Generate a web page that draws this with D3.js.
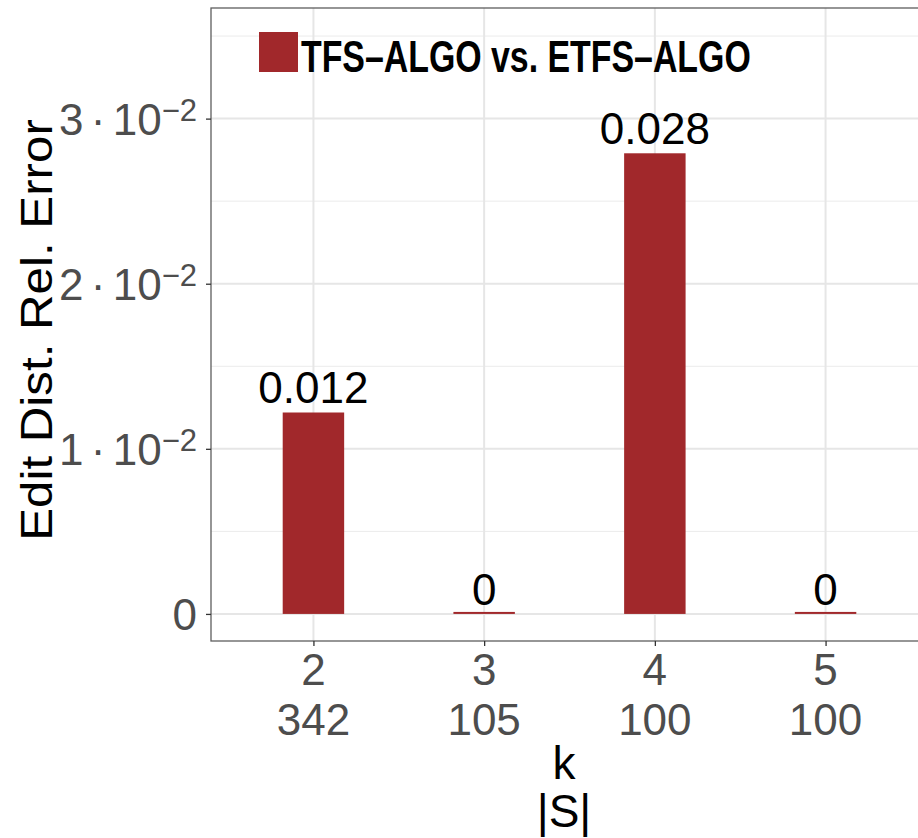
<!DOCTYPE html>
<html>
<head>
<meta charset="utf-8">
<script src="https://cdn.jsdelivr.net/npm/d3@7"></script>
<style>
  body { margin: 0; background: #fff; }
  text { font-family: "Liberation Sans", Arial, Helvetica, sans-serif; }
</style>
</head>
<body>
<div id="chart"></div>
<script>
// data
var kValues   = ["2", "3", "4", "5"];
var setSizes  = ["342", "105", "100", "100"];
var errors    = [0.0122, 0, 0.0279, 0];
var barLabels = ["0.012", "0", "0.028", "0"];
var yTicks    = [0, 0.01, 0.02, 0.03];
var yMinor    = [0.005, 0.015, 0.025, 0.035];
var seriesName = "TFS\u2013ALGO vs. ETFS\u2013ALGO";

var barColor = "#a1282b";

// svg drawing area
var margin = {top: 8, right: -10, bottom: 197, left: 211};
var width  = 918 - margin.left - margin.right;
var height = 838 - margin.top - margin.bottom;

var svg = d3.select("#chart").append("svg")
    .attr("width", 918)
    .attr("height", 838);

var g = svg.append("g")
    .attr("transform", "translate(" + margin.left + "," + margin.top + ")");

// scales
var x = d3.scalePoint()
    .domain(kValues)
    .range([0, width])
    .padding(0.6);

var y = d3.scaleLinear()
    .domain([-0.00164, 0.0367])
    .range([height, 0]);

var barWidth = x.step() * 0.36;

// grid
g.selectAll(".minor").data(yMinor).enter().append("line")
    .attr("x1", 0).attr("x2", width)
    .attr("y1", d => y(d)).attr("y2", d => y(d))
    .attr("stroke", "#ebebeb").attr("stroke-width", 1);

g.selectAll(".major").data(yTicks).enter().append("line")
    .attr("x1", 0).attr("x2", width)
    .attr("y1", d => y(d)).attr("y2", d => y(d))
    .attr("stroke", "#e6e6e6").attr("stroke-width", 2);

g.selectAll(".vgrid").data(kValues).enter().append("line")
    .attr("x1", d => x(d)).attr("x2", d => x(d))
    .attr("y1", 0).attr("y2", height)
    .attr("stroke", "#e6e6e6").attr("stroke-width", 2);

// bars
g.selectAll(".bar").data(errors).enter().append("rect")
    .attr("x", (d, i) => x(kValues[i]) - barWidth / 2)
    .attr("width", barWidth)
    .attr("y", d => Math.min(y(d), y(0) - 2))
    .attr("height", d => Math.max(y(0) - y(d), 2))
    .attr("fill", barColor);

// bar labels
g.selectAll(".blabel").data(errors).enter().append("text")
    .attr("x", (d, i) => x(kValues[i]))
    .attr("y", d => y(d) - 9)
    .attr("text-anchor", "middle")
    .attr("font-size", 44)
    .attr("fill", "#000")
    .text((d, i) => barLabels[i]);

// panel border
g.append("rect")
    .attr("width", width).attr("height", height)
    .attr("fill", "none")
    .attr("stroke", "#5e5e5e").attr("stroke-width", 1.3);

// y axis
var yAxis = g.append("g")
    .call(d3.axisLeft(y).tickValues(yTicks).tickSize(5).tickPadding(9).tickFormat(""));
yAxis.select(".domain").remove();
yAxis.selectAll(".tick line").attr("stroke", "#333").attr("stroke-width", 1.3);
yAxis.selectAll(".tick text")
    .attr("font-size", 44)
    .attr("fill", "#4d4d4d")
    .attr("dy", "0.36em")
    .each(function(d) {
        var t = d3.select(this);
        if (d === 0) { t.text("0"); return; }
        t.append("tspan").text(Math.round(d * 100) + "\u2006\u00b7\u200610");
        t.append("tspan").attr("dy", "-0.45em").attr("font-size", 31).text("\u22122");
    });

// x axis
var xAxis = g.append("g")
    .attr("transform", "translate(0," + height + ")")
    .call(d3.axisBottom(x).tickSize(5).tickFormat(""));
xAxis.select(".domain").remove();
xAxis.selectAll(".tick line").attr("stroke", "#333").attr("stroke-width", 1.3);
xAxis.selectAll(".tick text").remove();

xAxis.selectAll(".xl1").data(kValues).enter().append("text")
    .attr("x", d => x(d)).attr("y", 44)
    .attr("text-anchor", "middle")
    .attr("font-size", 44).attr("fill", "#4d4d4d")
    .text(d => d);
xAxis.selectAll(".xl2").data(setSizes).enter().append("text")
    .attr("x", (d, i) => x(kValues[i])).attr("y", 94)
    .attr("text-anchor", "middle")
    .attr("font-size", 44).attr("fill", "#4d4d4d")
    .text(d => d);

// axis titles
svg.append("text")
    .attr("x", 564).attr("y", 779)
    .attr("text-anchor", "middle")
    .attr("font-size", 46)
    .text("k");
svg.append("text")
    .attr("x", 564).attr("y", 827)
    .attr("text-anchor", "middle")
    .attr("font-size", 46)
    .text("|S|");

svg.append("text")
    .attr("transform", "translate(52,330) rotate(-90) scale(1.12,1)")
    .attr("text-anchor", "middle")
    .attr("font-size", 44)
    .text("Edit Dist. Rel. Error");

// legend
var legend = svg.append("g").attr("transform", "translate(259,32)");
legend.append("rect")
    .attr("width", 39).attr("height", 40)
    .attr("fill", barColor);
legend.append("text")
    .attr("transform", "translate(42,40) scale(0.77,1)")
    .attr("font-size", 44)
    .attr("font-weight", "bold")
    .text(seriesName);
</script>
</body>
</html>
